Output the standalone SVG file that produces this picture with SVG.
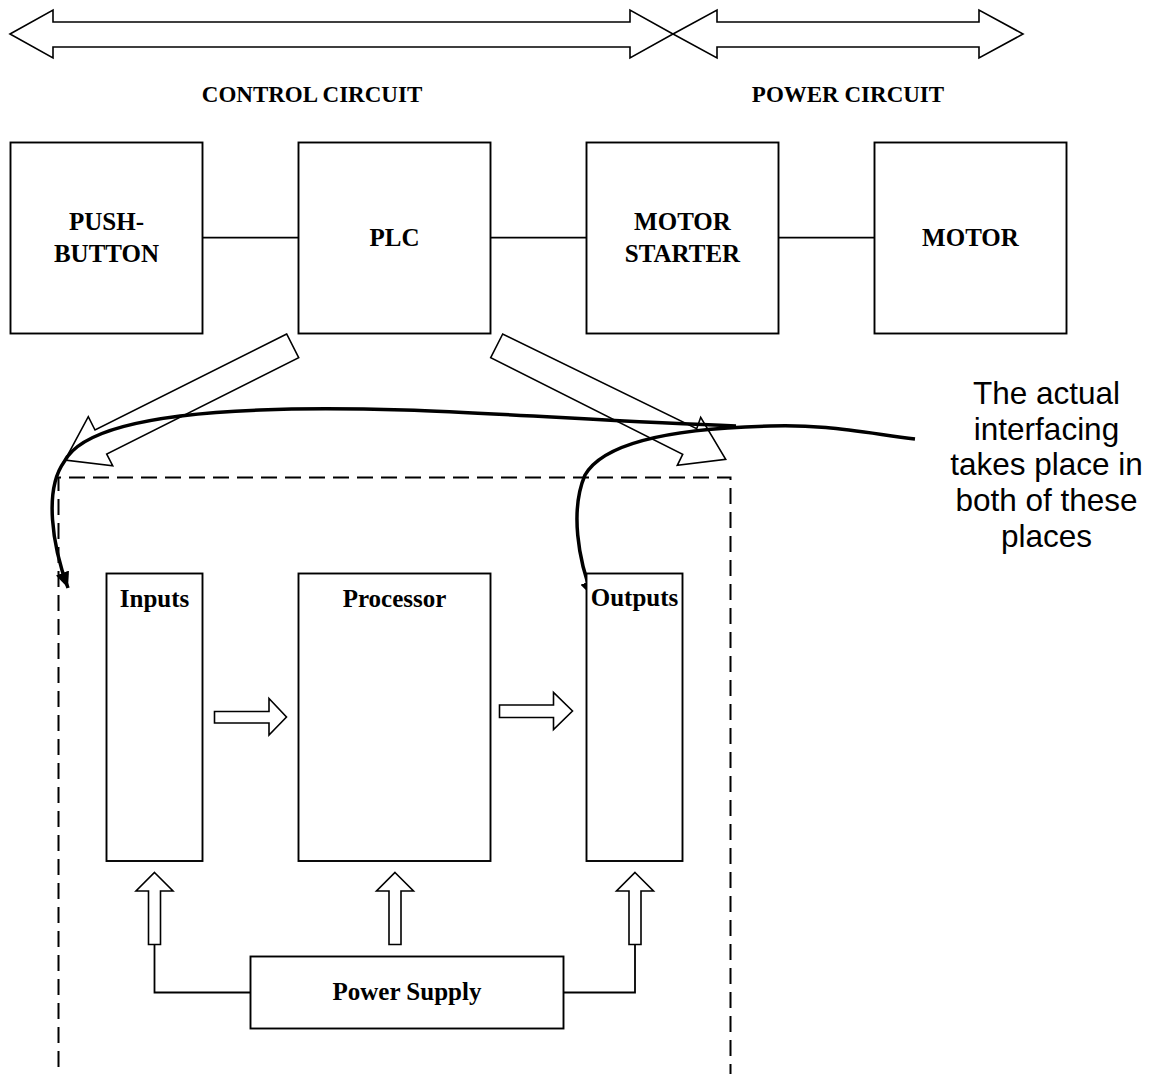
<svg xmlns="http://www.w3.org/2000/svg" width="1154" height="1074" viewBox="0 0 1154 1074">
<style>
.box{fill:#fff;stroke:#000;stroke-width:1.9}
.blk{fill:#fff;stroke:#000;stroke-width:1.6;stroke-linejoin:miter}
.ln{fill:none;stroke:#000;stroke-width:1.8}
.crv{fill:none;stroke:#000;stroke-width:3.5}
.dash{fill:none;stroke:#000;stroke-width:2;stroke-dasharray:16 8}
.t{font-family:"Liberation Serif","Times New Roman",serif;font-weight:bold;font-size:25px;text-anchor:middle;fill:#000}
.h{font-family:"Liberation Serif","Times New Roman",serif;font-weight:bold;font-size:23px;text-anchor:middle;fill:#000}
.s{font-family:"Liberation Sans",Arial,sans-serif;font-size:31.5px;text-anchor:middle;fill:#000}
</style>
<defs>
<marker id="ah" markerUnits="userSpaceOnUse" markerWidth="18" markerHeight="14" refX="16" refY="7" orient="auto">
<path d="M0,0 L16,7 L0,14 Z" fill="#000"/>
</marker>
</defs>
<rect width="1154" height="1074" fill="#fff"/>

<g id="scope-arrows">
<polygon class="blk" points="10,34 53,10 53,22 630,22 630,10 673,34 630,58 630,47 53,47 53,58"/>
<polygon class="blk" points="673,34 717,10 717,22 979,22 979,10 1023,34 979,58 979,47 717,47 717,58"/>
<text class="h" x="312" y="102">CONTROL CIRCUIT</text>
<text class="h" x="848" y="102">POWER CIRCUIT</text>
</g>

<g id="connectors">
<line class="ln" x1="202.5" y1="237.7" x2="298.5" y2="237.7"/>
<line class="ln" x1="490.5" y1="237.7" x2="586.5" y2="237.7"/>
<line class="ln" x1="778.5" y1="237.7" x2="874.5" y2="237.7"/>
<polygon class="blk" points="286.7,334 95,430 88.3,416.7 65,460 112.7,465.7 106.7,454 298.7,357.7"/>
<polygon class="blk" points="502.7,334 490.7,357.7 682.7,454.3 677.3,465.3 725.7,459.3 700.7,417.3 696.7,428.7"/>
<polygon class="blk" points="214.5,711.5 269,711.5 269,698.5 286.5,717 269,735 269,723 214.5,723"/>
<polygon class="blk" points="499.5,705 553.5,705 553.5,692.5 572.5,711 553.5,729.5 553.5,717.5 499.5,717.5"/>
<polygon class="blk" points="154.5,872.5 173,891 160.5,891 160.5,944.5 148.5,944.5 148.5,891 136,891"/>
<polygon class="blk" points="395,872.5 413.5,891 401,891 401,944.5 389,944.5 389,891 376.5,891"/>
<polygon class="blk" points="635,872.5 653.5,891 641,891 641,944.5 629,944.5 629,891 616.5,891"/>
<polyline class="ln" points="154.5,944.5 154.5,992.5 250.5,992.5"/>
<polyline class="ln" points="635,944.5 635,992.5 563.5,992.5"/>
<path class="dash" d="M58.5,1067 V477.5 H730.5 V1074"/>
<path class="crv" marker-end="url(#ah)" d="M736,426 C560,420 400,404 260,410 C150,414 80,430 64,462 C44,490 52,545 68,588"/>
<path class="crv" marker-end="url(#ah)" d="M915,439 C860,432 820,424 770,426 C680,428 605,440 585,475 C570,510 578,560 593,597"/>
</g>

<g id="pushbutton">
<rect class="box" x="10.5" y="142.5" width="192" height="191"/>
<text class="t" x="106.5" y="230">PUSH-</text>
<text class="t" x="106.5" y="261.5">BUTTON</text>
</g>
<g id="plc">
<rect class="box" x="298.5" y="142.5" width="192" height="191"/>
<text class="t" x="394.5" y="246">PLC</text>
</g>
<g id="motor-starter">
<rect class="box" x="586.5" y="142.5" width="192" height="191"/>
<text class="t" x="682.5" y="230">MOTOR</text>
<text class="t" x="682.5" y="261.5">STARTER</text>
</g>
<g id="motor">
<rect class="box" x="874.5" y="142.5" width="192" height="191"/>
<text class="t" x="970.5" y="246">MOTOR</text>
</g>

<g id="inputs">
<rect class="box" x="106.5" y="573.5" width="96" height="287.5"/>
<text class="t" x="154.5" y="607">Inputs</text>
</g>
<g id="processor">
<rect class="box" x="298.5" y="573.5" width="192" height="287.5"/>
<text class="t" x="394.5" y="607">Processor</text>
</g>
<g id="outputs">
<rect class="box" x="586.5" y="573.5" width="96" height="287.5"/>
<text class="t" x="634.5" y="606">Outputs</text>
</g>
<g id="power-supply">
<rect class="box" x="250.5" y="956.5" width="313" height="72"/>
<text class="t" x="407" y="1000">Power Supply</text>
</g>

<g id="note">
<text class="s" x="1046.5" y="404">The actual</text>
<text class="s" x="1046.5" y="439.7">interfacing</text>
<text class="s" x="1046.5" y="475.4">takes place in</text>
<text class="s" x="1046.5" y="511.1">both of these</text>
<text class="s" x="1046.5" y="546.8">places</text>
</g>
</svg>
